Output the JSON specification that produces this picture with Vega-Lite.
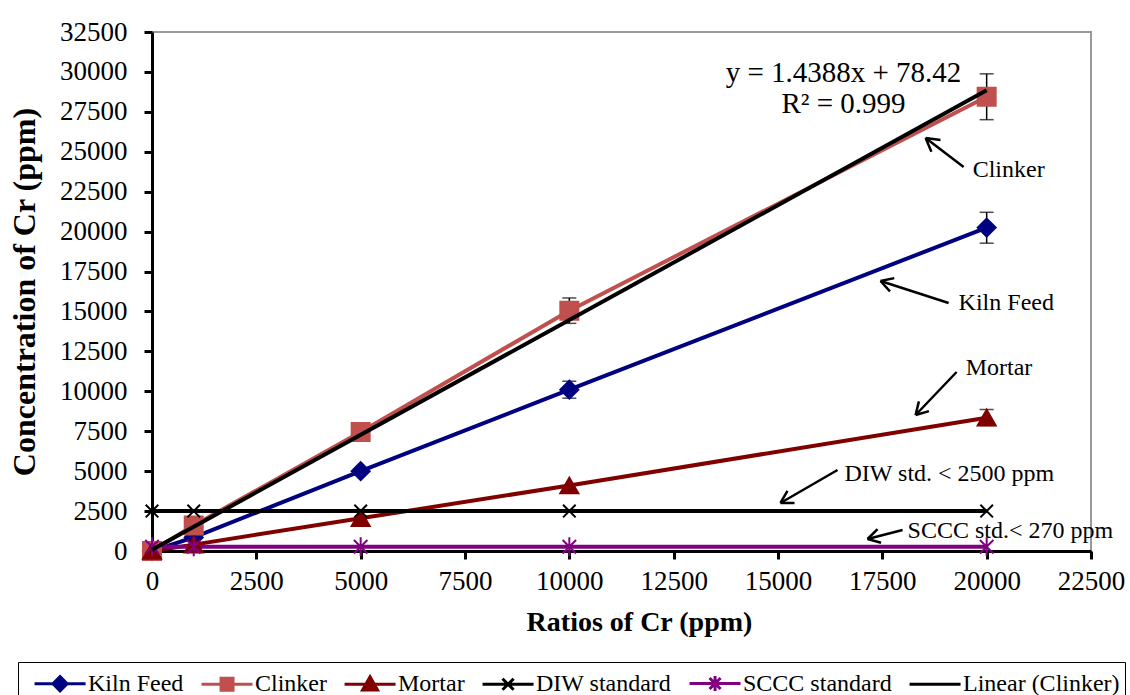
{
  "$schema": "https://vega.github.io/schema/vega-lite/v6.json",
  "autosize": "none",
  "width": 939,
  "height": 519,
  "padding": {"left": 152, "top": 32, "right": 39, "bottom": 144},
  "background": "white",
  "config": {
    "view": {"stroke": "#999999", "strokeWidth": 2},
    "font": "Liberation Serif",
    "style": {"guide-label": {"font": "Liberation Serif"}, "guide-title": {"font": "Liberation Serif"}},
    "axis": {
      "labelFont": "Liberation Serif", "labelFontSize": 27, "labelColor": "black",
      "titleFont": "Liberation Serif", "titleFontWeight": "bold", "titleColor": "black",
      "domainColor": "black", "domainWidth": 3, "tickColor": "black", "tickWidth": 3, "tickSize": 8,
      "grid": false, "format": "d", "labelFlush": false, "labelOverlap": false
    },
    "legend": {"labelFont": "Liberation Serif", "labelFontSize": 24, "labelColor": "black", "symbolOpacity": 1}
  },
  "datasets": {
    "pts": [
      {"Series": "Kiln Feed", "x": 0, "y": 0},
      {"Series": "Kiln Feed", "x": 1000, "y": 850},
      {"Series": "Kiln Feed", "x": 5000, "y": 5000},
      {"Series": "Kiln Feed", "x": 10000, "y": 10100},
      {"Series": "Kiln Feed", "x": 20000, "y": 20250},
      {"Series": "Clinker", "x": 0, "y": 0},
      {"Series": "Clinker", "x": 1000, "y": 1600},
      {"Series": "Clinker", "x": 5000, "y": 7450},
      {"Series": "Clinker", "x": 10000, "y": 15050},
      {"Series": "Clinker", "x": 20000, "y": 28450},
      {"Series": "Mortar", "x": 0, "y": 0},
      {"Series": "Mortar", "x": 1000, "y": 400},
      {"Series": "Mortar", "x": 5000, "y": 2050},
      {"Series": "Mortar", "x": 10000, "y": 4100},
      {"Series": "Mortar", "x": 20000, "y": 8350},
      {"Series": "DIW standard", "x": 0, "y": 2500},
      {"Series": "DIW standard", "x": 1000, "y": 2500},
      {"Series": "DIW standard", "x": 5000, "y": 2500},
      {"Series": "DIW standard", "x": 10000, "y": 2500},
      {"Series": "DIW standard", "x": 20000, "y": 2500},
      {"Series": "SCCC standard", "x": 0, "y": 270},
      {"Series": "SCCC standard", "x": 1000, "y": 270},
      {"Series": "SCCC standard", "x": 5000, "y": 270},
      {"Series": "SCCC standard", "x": 10000, "y": 270},
      {"Series": "SCCC standard", "x": 20000, "y": 270}
    ],
    "fit": [
      {"Series": "Linear (Clinker)", "x": 0, "y": 78.42},
      {"Series": "Linear (Clinker)", "x": 20000, "y": 28854.42}
    ],
    "err": [
      {"Series": "Kiln Feed", "x": 10000, "lo": 9570, "hi": 10630},
      {"Series": "Kiln Feed", "x": 20000, "lo": 19275, "hi": 21210},
      {"Series": "Clinker", "x": 10000, "lo": 14255, "hi": 15845},
      {"Series": "Clinker", "x": 20000, "lo": 27010, "hi": 29880},
      {"Series": "Mortar", "x": 20000, "lo": 7860, "hi": 8860}
    ],
    "arrows": [
      {"x": 19448, "y": 24046, "x2": 18537, "y2": 25862},
      {"x": 18537, "y": 25862, "x2": 18676, "y2": 24998},
      {"x": 18537, "y": 25862, "x2": 18894, "y2": 25743},
      {"x": 19088, "y": 15530, "x2": 17457, "y2": 16907},
      {"x": 17457, "y": 16907, "x2": 17683, "y2": 16256},
      {"x": 17457, "y": 16907, "x2": 17786, "y2": 17089},
      {"x": 19280, "y": 11209, "x2": 18297, "y2": 8516},
      {"x": 18297, "y": 8516, "x2": 18618, "y2": 8761},
      {"x": 18297, "y": 8516, "x2": 18376, "y2": 9368},
      {"x": 16426, "y": 5072, "x2": 15059, "y2": 3006},
      {"x": 15059, "y": 3006, "x2": 15395, "y2": 3006},
      {"x": 15059, "y": 3006, "x2": 15227, "y2": 3763},
      {"x": 17985, "y": 1315, "x2": 17146, "y2": 751},
      {"x": 17146, "y": 751, "x2": 17469, "y2": 513},
      {"x": 17146, "y": 751, "x2": 17385, "y2": 1365}
    ],
    "notes": [
      {"label": "Clinker", "x": 19664, "y": 23858},
      {"label": "Kiln Feed", "x": 19328, "y": 15530},
      {"label": "Mortar", "x": 19496, "y": 11459},
      {"label": "DIW std. < 2500 ppm", "x": 16594, "y": 4822},
      {"label": "SCCC std.< 270 ppm", "x": 18105, "y": 1252}
    ],
    "eq": [
      {"label": "y = 1.4388x + 78.42", "x": 16570, "y": 29932},
      {"label": "R² = 0.999", "x": 16570, "y": 27991}
    ],
    "leg": [
      {"Series": "Kiln Feed", "x": -5000, "y": -5000},
      {"Series": "Clinker", "x": -5000, "y": -5000},
      {"Series": "Mortar", "x": -5000, "y": -5000},
      {"Series": "DIW standard", "x": -5000, "y": -5000},
      {"Series": "SCCC standard", "x": -5000, "y": -5000},
      {"Series": "Linear (Clinker)", "x": -5000, "y": -5000}
    ]
  },
  "encoding": {
    "x": {"field": "x", "type": "quantitative", "scale": {"domain": [0, 22500], "nice": false, "zero": false},
      "axis": {"values": [0, 2500, 5000, 7500, 10000, 12500, 15000, 17500, 20000, 22500], "title": "Ratios of Cr (ppm)", "labelPadding": 9, "titlePadding": 14, "titleFontSize": 28, "titleX": 487}},
    "y": {"field": "y", "type": "quantitative", "scale": {"domain": [0, 32500], "nice": false, "zero": false},
      "axis": {"values": [0, 2500, 5000, 7500, 10000, 12500, 15000, 17500, 20000, 22500, 25000, 27500, 30000, 32500], "title": "Concentration of Cr (ppm)", "labelPadding": 17, "titlePadding": 18, "titleFontSize": 32}}
  },
  "resolve": {
    "scale": {"shape": "independent", "fill": "independent", "stroke": "independent"},
    "legend": {"shape": "independent", "fill": "independent", "stroke": "independent"}
  },
  "layer": [
    {
      "data": {"name": "pts"},
      "mark": {"type": "line", "strokeWidth": 4},
      "encoding": {
        "color": {"field": "Series", "type": "nominal", "legend": null,
          "scale": {"domain": ["Kiln Feed", "Clinker", "Mortar", "DIW standard", "SCCC standard", "Linear (Clinker)"],
            "range": ["#000080", "#C0504D", "#800000", "#000000", "#800080", "#000000"]}}
      }
    },
    {
      "data": {"name": "err"},
      "mark": {"type": "rule", "color": "black", "strokeWidth": 1.5},
      "encoding": {"y": {"field": "lo", "type": "quantitative"}, "y2": {"field": "hi"}}
    },
    {
      "data": {"name": "err"},
      "mark": {"type": "tick", "orient": "horizontal", "color": "black", "thickness": 1.5, "size": 14},
      "encoding": {"y": {"field": "lo", "type": "quantitative"}}
    },
    {
      "data": {"name": "err"},
      "mark": {"type": "tick", "orient": "horizontal", "color": "black", "thickness": 1.5, "size": 14},
      "encoding": {"y": {"field": "hi", "type": "quantitative"}}
    },
    {
      "data": {"name": "pts"},
      "mark": {"type": "point", "filled": true, "size": 324, "strokeWidth": 2, "opacity": 1},
      "encoding": {
        "shape": {"field": "Series", "type": "nominal", "legend": null,
          "scale": {"domain": ["Kiln Feed", "Clinker", "Mortar", "DIW standard", "SCCC standard"],
            "range": ["diamond", "square", "triangle-up", "M-0.7,-0.7L0.7,0.7M-0.7,0.7L0.7,-0.7", "M-0.75,-0.75L0.75,0.75M-0.75,0.75L0.75,-0.75M0,-1.05V1.05"]}},
        "fill": {"field": "Series", "type": "nominal", "legend": null,
          "scale": {"domain": ["Kiln Feed", "Clinker", "Mortar", "DIW standard", "SCCC standard"],
            "range": ["#000080", "#C0504D", "#800000", "#000000", "#800080"]}},
        "stroke": {"field": "Series", "type": "nominal", "legend": null,
          "scale": {"domain": ["Kiln Feed", "Clinker", "Mortar", "DIW standard", "SCCC standard"],
            "range": ["#000080", "#C0504D", "#800000", "#000000", "#800080"]}}
      }
    },
    {
      "data": {"name": "fit"},
      "mark": {"type": "line", "color": "black", "strokeWidth": 4},
      "encoding": {}
    },
    {
      "data": {"name": "arrows"},
      "mark": {"type": "rule", "color": "black", "strokeWidth": 2.5},
      "encoding": {"x2": {"field": "x2"}, "y2": {"field": "y2"}}
    },
    {
      "data": {"name": "notes"},
      "mark": {"type": "text", "align": "left", "baseline": "middle", "font": "Liberation Serif", "fontSize": 24, "color": "black"},
      "encoding": {"text": {"field": "label"}}
    },
    {
      "data": {"name": "eq"},
      "mark": {"type": "text", "align": "center", "baseline": "middle", "font": "Liberation Serif", "fontSize": 29, "color": "black"},
      "encoding": {"text": {"field": "label"}}
    },
    {
      "data": {"name": "leg"},
      "mark": {"type": "point", "filled": true, "clip": true, "size": 10, "strokeWidth": 3, "opacity": 1},
      "encoding": {
        "shape": {"field": "Series", "type": "nominal",
          "scale": {"domain": ["Kiln Feed", "Clinker", "Mortar", "DIW standard", "SCCC standard", "Linear (Clinker)"],
            "range": [
              "M-0.33,0H3.07M1.37,-0.47L1.84,0L1.37,0.47L0.9,0Z",
              "M-0.33,0H3.07M0.97,-0.4H1.77V0.4H0.97Z",
              "M-0.33,0H3.07M1.37,-0.5L1.87,0.38L0.87,0.38Z",
              "M-0.33,0H3.07M1.0,-0.37L1.74,0.37M1.0,0.37L1.74,-0.37",
              "M-0.33,0H3.07M1.0,-0.37L1.74,0.37M1.0,0.37L1.74,-0.37M1.37,-0.5V0.5",
              "M-0.33,0H3.07"]},
          "legend": {"orient": "none", "legendX": -134, "legendY": 630, "direction": "horizontal", "title": null,
            "strokeColor": "black", "padding": 5, "labelFont": "Liberation Serif", "labelFontSize": 24, "labelColor": "black",
            "symbolSize": 900, "symbolStrokeWidth": 3, "symbolOpacity": 1, "labelOffset": 32, "columnPadding": 6,
            "encode": {"labels": {"update": {"font": {"value": "Liberation Serif"}, "fontSize": {"value": 24}}}}}},
        "fill": {"field": "Series", "type": "nominal",
          "scale": {"domain": ["Kiln Feed", "Clinker", "Mortar", "DIW standard", "SCCC standard", "Linear (Clinker)"],
            "range": ["#000080", "#C0504D", "#800000", "#000000", "#800080", "#000000"]},
          "legend": {"orient": "none", "legendX": -134, "legendY": 630, "direction": "horizontal", "title": null,
            "strokeColor": "black", "padding": 5, "labelFont": "Liberation Serif", "labelFontSize": 24, "labelColor": "black",
            "symbolSize": 900, "symbolStrokeWidth": 3, "symbolOpacity": 1, "labelOffset": 32, "columnPadding": 6,
            "encode": {"labels": {"update": {"font": {"value": "Liberation Serif"}, "fontSize": {"value": 24}}}}}},
        "stroke": {"field": "Series", "type": "nominal",
          "scale": {"domain": ["Kiln Feed", "Clinker", "Mortar", "DIW standard", "SCCC standard", "Linear (Clinker)"],
            "range": ["#000080", "#C0504D", "#800000", "#000000", "#800080", "#000000"]},
          "legend": {"orient": "none", "legendX": -134, "legendY": 630, "direction": "horizontal", "title": null,
            "strokeColor": "black", "padding": 5, "labelFont": "Liberation Serif", "labelFontSize": 24, "labelColor": "black",
            "symbolSize": 900, "symbolStrokeWidth": 3, "symbolOpacity": 1, "labelOffset": 32, "columnPadding": 6,
            "encode": {"labels": {"update": {"font": {"value": "Liberation Serif"}, "fontSize": {"value": 24}}}}}}
      }
    }
  ]
}
